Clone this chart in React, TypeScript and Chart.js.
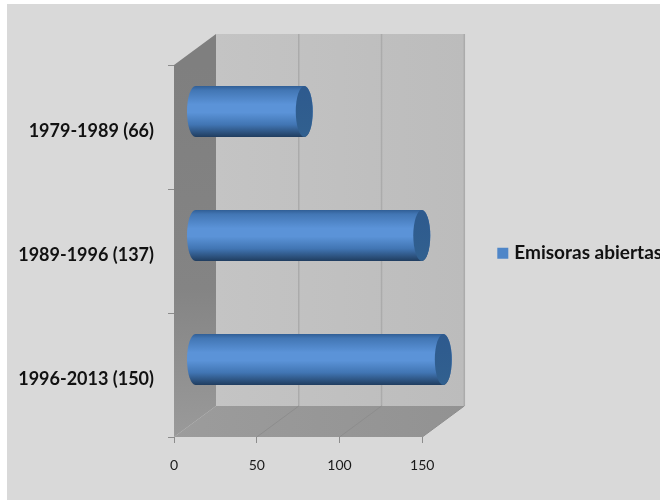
import React, { useEffect, useRef } from "react";
import { Chart, registerables } from "chart.js";

Chart.register(...registerables);

const categories = ["1979-1989 (66)", "1989-1996 (137)", "1996-2013 (150)"];
const stations = [66, 137, 150];
const seriesName = "Emisoras abiertas";
const axisMax = 150;
const axisStep = 50;

const FONT = "Lato, 'Open Sans', sans-serif";
const BAR_BLUE = "#4F86C8";
// Offset between the front plane of the box and its back wall.
const DEPTH_X = 42;
const DEPTH_Y = -31;

// Background panel that leaves a thin white strip on the top and left.
const panelPlugin = {
  id: "panel",
  beforeDraw(chart: any) {
    const { ctx, width, height } = chart;
    ctx.save();
    ctx.fillStyle = "#FFFFFF";
    ctx.fillRect(0, 0, width, height);
    ctx.fillStyle = "#D9D9D9";
    ctx.fillRect(7, 4, width - 7, height - 4);
    ctx.restore();
  },
};

// Puts the legend out beside the box, away from the default spot.
const legendPlacement = {
  id: "legendPlacement",
  afterLayout(chart: any) {
    const legend = chart.legend;
    const h = legend.bottom - legend.top;
    legend.left = 497;
    legend.right = legend.left + legend.width;
    legend.top = 240;
    legend.bottom = legend.top + h;
  },
};

function polygon(ctx: CanvasRenderingContext2D, pts: number[][]) {
  ctx.beginPath();
  pts.forEach(([x, y], i) => (i ? ctx.lineTo(x, y) : ctx.moveTo(x, y)));
  ctx.closePath();
}

// Back wall, side wall and floor of the box, tied to the chart's scales.
const boxPlugin = {
  id: "box3d",
  beforeDatasetsDraw(chart: any) {
    const { ctx, scales } = chart;
    const x = scales.x;
    const left = x.getPixelForValue(0);
    const right = x.getPixelForValue(axisMax);
    const { top, bottom } = chart.chartArea;
    const dx = DEPTH_X;
    const dy = DEPTH_Y;
    ctx.save();

    const wall = ctx.createLinearGradient(left + dx, 0, right + dx, 0);
    wall.addColorStop(0, "#C4C4C4");
    wall.addColorStop(1, "#BCBCBC");
    ctx.fillStyle = wall;
    ctx.fillRect(left + dx, top + dy, right - left, bottom - top);

    const side = ctx.createLinearGradient(0, top, 0, bottom);
    side.addColorStop(0, "#7F7F7F");
    side.addColorStop(0.6, "#848484");
    side.addColorStop(1, "#9A9A9A");
    ctx.fillStyle = side;
    polygon(ctx, [
      [left, top],
      [left + dx, top + dy],
      [left + dx, bottom + dy],
      [left, bottom],
    ]);
    ctx.fill();

    const floor = ctx.createLinearGradient(left, 0, right + dx, 0);
    floor.addColorStop(0, "#9C9C9C");
    floor.addColorStop(1, "#929292");
    ctx.fillStyle = floor;
    polygon(ctx, [
      [left, bottom],
      [left + dx, bottom + dy],
      [right + dx, bottom + dy],
      [right, bottom],
    ]);
    ctx.fill();

    // The zero line coincides with the wall corner, so it gets no stroke.
    x.ticks
      .filter((t: any) => t.value > 0)
      .forEach((t: any) => {
        const px = x.getPixelForValue(t.value);
        ctx.strokeStyle = "#ABABAB";
        ctx.lineWidth = 1.5;
        ctx.beginPath();
        ctx.moveTo(px + dx, top + dy);
        ctx.lineTo(px + dx, bottom + dy);
        ctx.stroke();
        ctx.strokeStyle = "#8D8D8D";
        ctx.lineWidth = 1;
        ctx.beginPath();
        ctx.moveTo(px, bottom);
        ctx.lineTo(px + dx, bottom + dy);
        ctx.stroke();
      });
    ctx.restore();
  },
};

// Each bar becomes a cylinder, placed midway through the depth of the box.
const cylinderPlugin = {
  id: "cylinders",
  beforeDatasetDraw(chart: any, args: any) {
    const { ctx } = chart;
    const midX = DEPTH_X / 2;
    const midY = DEPTH_Y / 2;
    const rx = 8.5;
    args.meta.data.forEach((bar: any) => {
      const { x, y, base, height } = bar.getProps(["x", "y", "base", "height"], true);
      const cy = y + midY;
      const ry = height / 2;
      const x0 = base + midX;
      const x1 = x + midX;

      const skin = ctx.createLinearGradient(0, cy - ry, 0, cy + ry);
      skin.addColorStop(0, "#315F96");
      skin.addColorStop(0.08, "#4276B4");
      skin.addColorStop(0.36, "#5B93D8");
      skin.addColorStop(0.52, "#5B93D8");
      skin.addColorStop(0.76, "#4175B3");
      skin.addColorStop(0.93, "#2A4E78");
      skin.addColorStop(1, "#203D60");

      ctx.save();
      ctx.fillStyle = skin;
      ctx.beginPath();
      ctx.ellipse(x0, cy, rx, ry, 0, Math.PI / 2, (3 * Math.PI) / 2);
      ctx.lineTo(x1, cy - ry);
      ctx.ellipse(x1, cy, rx, ry, 0, -Math.PI / 2, Math.PI / 2);
      ctx.closePath();
      ctx.fill();

      const cap = ctx.createLinearGradient(0, cy - ry, 0, cy + ry);
      cap.addColorStop(0, "#2E5A8E");
      cap.addColorStop(1, "#31608F");
      ctx.fillStyle = cap;
      ctx.beginPath();
      ctx.ellipse(x1, cy, rx, ry, 0, 0, Math.PI * 2);
      ctx.fill();
      ctx.restore();
    });
    return false;
  },
};

export default function App() {
  const canvasRef = useRef<HTMLCanvasElement | null>(null);

  useEffect(() => {
    const chart = new Chart(canvasRef.current as HTMLCanvasElement, {
      type: "bar",
      data: {
        labels: categories,
        datasets: [
          {
            label: seriesName,
            data: stations,
            backgroundColor: BAR_BLUE,
            borderColor: BAR_BLUE,
            borderWidth: 7,
            categoryPercentage: 1,
            barPercentage: 0.41,
          },
        ],
      },
      options: {
        indexAxis: "y",
        responsive: false,
        animation: false,
        devicePixelRatio: 1,
        events: [],
        layout: { padding: { top: 65, right: 237.7, left: 0, bottom: 0 } },
        scales: {
          x: {
            min: 0,
            max: axisMax,
            afterFit: (s: any) => {
              s.height = 63;
            },
            border: { display: false },
            grid: { drawOnChartArea: false, drawTicks: true, tickLength: 6, tickColor: "#8C8C8C" },
            ticks: {
              stepSize: axisStep,
              maxRotation: 0,
              padding: 14,
              color: "#1A1A1A",
              font: { family: FONT, size: 14 },
            },
          },
          y: {
            afterFit: (s: any) => {
              s.width = 174;
            },
            border: { display: false },
            grid: { drawOnChartArea: false, drawTicks: true, tickLength: 6, tickColor: "#8C8C8C" },
            ticks: {
              autoSkip: false,
              padding: 14,
              labelOffset: 4,
              color: "#111111",
              font: { family: FONT, size: 18, weight: "bold" },
            },
          },
        },
        plugins: {
          tooltip: { enabled: false },
          legend: {
            position: "chartArea",
            align: "start",
            labels: {
              boxWidth: 4,
              boxHeight: 4,
              padding: 3.8,
              color: "#111111",
              font: { family: FONT, size: 19, weight: "bold" },
            },
          },
        },
      },
      plugins: [panelPlugin, legendPlacement, boxPlugin, cylinderPlugin],
    } as any);
    return () => chart.destroy();
  }, []);

  return (
    <canvas
      ref={canvasRef}
      width={660}
      height={500}
      style={{ position: "absolute", left: 0, top: 0, display: "block" }}
    />
  );
}
